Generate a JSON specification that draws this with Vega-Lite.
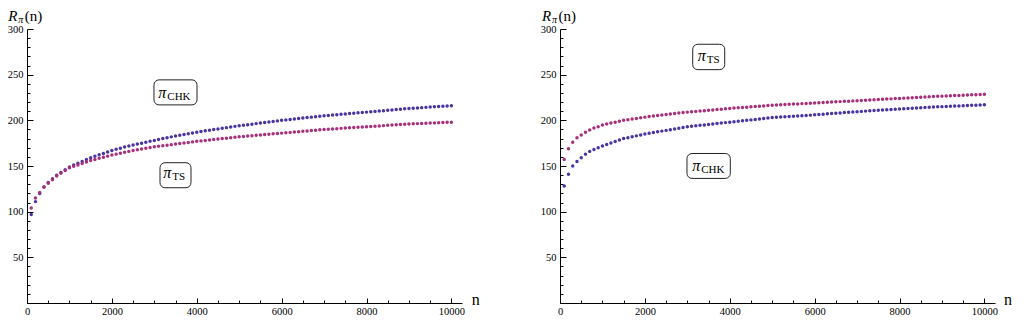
{
  "$schema": "https://vega.github.io/schema/vega-lite/v6.json",
  "background": "white",
  "padding": {"left": 7, "top": 9, "right": 5, "bottom": 5},
  "spacing": 60,
  "config": {
    "view": {"stroke": null},
    "axis": {"grid": false, "domainColor": "#000", "tickColor": "#000", "labelColor": "#000", "labelFont": "Liberation Serif", "labelFontSize": 10, "labelOverlap": false, "labelFlush": false}
  },
  "datasets": {
    "pts": [
      {"n":100,"lc":97,"lt":104,"rc":128,"rt":157},
      {"n":200,"lc":111,"lt":115,"rc":141,"rt":169},
      {"n":300,"lc":120,"lt":121,"rc":150,"rt":176},
      {"n":400,"lc":127,"lt":127,"rc":155,"rt":181},
      {"n":500,"lc":132,"lt":131,"rc":159,"rt":184},
      {"n":600,"lc":136,"lt":135,"rc":163,"rt":187},
      {"n":700,"lc":140,"lt":139,"rc":166,"rt":189.5},
      {"n":800,"lc":143,"lt":142,"rc":168,"rt":191.5},
      {"n":900,"lc":146,"lt":145,"rc":170,"rt":193},
      {"n":1000,"lc":149,"lt":148,"rc":172,"rt":195},
      {"n":1100,"lc":151,"lt":149.6,"rc":173.6,"rt":196},
      {"n":1200,"lc":153,"lt":151.2,"rc":175.2,"rt":197},
      {"n":1300,"lc":155,"lt":152.8,"rc":176.8,"rt":198},
      {"n":1400,"lc":157,"lt":154.4,"rc":178.4,"rt":199},
      {"n":1500,"lc":159,"lt":156,"rc":180,"rt":200},
      {"n":1600,"lc":160.6,"lt":157.2,"rc":181,"rt":200.7},
      {"n":1700,"lc":162.2,"lt":158.4,"rc":182,"rt":201.4},
      {"n":1800,"lc":163.8,"lt":159.6,"rc":183,"rt":202.1},
      {"n":1900,"lc":165.4,"lt":160.8,"rc":184,"rt":202.8},
      {"n":2000,"lc":167,"lt":162,"rc":185,"rt":203.5},
      {"n":2100,"lc":168.3,"lt":163,"rc":185.8,"rt":204.1},
      {"n":2200,"lc":169.5,"lt":164,"rc":186.6,"rt":204.7},
      {"n":2300,"lc":170.7,"lt":165,"rc":187.4,"rt":205.3},
      {"n":2400,"lc":171.9,"lt":166,"rc":188.2,"rt":205.9},
      {"n":2500,"lc":173,"lt":167,"rc":189,"rt":206.5},
      {"n":2600,"lc":174,"lt":167.8,"rc":189.8,"rt":207},
      {"n":2700,"lc":175,"lt":168.6,"rc":190.6,"rt":207.5},
      {"n":2800,"lc":176,"lt":169.4,"rc":191.4,"rt":208},
      {"n":2900,"lc":177,"lt":170.2,"rc":192.2,"rt":208.5},
      {"n":3000,"lc":178,"lt":171,"rc":193,"rt":209},
      {"n":3100,"lc":179,"lt":171.6,"rc":193.5,"rt":209.4},
      {"n":3200,"lc":180,"lt":172.2,"rc":194,"rt":209.8},
      {"n":3300,"lc":181,"lt":172.8,"rc":194.5,"rt":210.2},
      {"n":3400,"lc":181.9,"lt":173.4,"rc":195,"rt":210.6},
      {"n":3500,"lc":182.8,"lt":174,"rc":195.5,"rt":211},
      {"n":3600,"lc":183.7,"lt":174.6,"rc":196,"rt":211.4},
      {"n":3700,"lc":184.6,"lt":175.2,"rc":196.5,"rt":211.8},
      {"n":3800,"lc":185.4,"lt":175.8,"rc":197,"rt":212.2},
      {"n":3900,"lc":186.2,"lt":176.4,"rc":197.5,"rt":212.6},
      {"n":4000,"lc":187,"lt":177,"rc":198,"rt":213},
      {"n":4100,"lc":187.8,"lt":177.5,"rc":198.5,"rt":213.4},
      {"n":4200,"lc":188.5,"lt":178,"rc":199,"rt":213.7},
      {"n":4300,"lc":189.2,"lt":178.5,"rc":199.5,"rt":214.1},
      {"n":4400,"lc":189.9,"lt":179,"rc":200,"rt":214.4},
      {"n":4500,"lc":190.6,"lt":179.5,"rc":200.5,"rt":214.8},
      {"n":4600,"lc":191.3,"lt":180,"rc":201,"rt":215.1},
      {"n":4700,"lc":192,"lt":180.5,"rc":201.5,"rt":215.5},
      {"n":4800,"lc":192.7,"lt":181,"rc":202,"rt":215.8},
      {"n":4900,"lc":193.4,"lt":181.5,"rc":202.5,"rt":216.2},
      {"n":5000,"lc":194,"lt":182,"rc":203,"rt":216.5},
      {"n":5100,"lc":194.6,"lt":182.4,"rc":203.3,"rt":216.8},
      {"n":5200,"lc":195.2,"lt":182.8,"rc":203.6,"rt":217},
      {"n":5300,"lc":195.8,"lt":183.2,"rc":203.9,"rt":217.3},
      {"n":5400,"lc":196.4,"lt":183.6,"rc":204.2,"rt":217.5},
      {"n":5500,"lc":197,"lt":184,"rc":204.5,"rt":217.8},
      {"n":5600,"lc":197.6,"lt":184.4,"rc":204.8,"rt":218},
      {"n":5700,"lc":198.2,"lt":184.8,"rc":205.1,"rt":218.3},
      {"n":5800,"lc":198.8,"lt":185.2,"rc":205.4,"rt":218.5},
      {"n":5900,"lc":199.4,"lt":185.6,"rc":205.7,"rt":218.8},
      {"n":6000,"lc":200,"lt":186,"rc":206,"rt":219},
      {"n":6100,"lc":200.5,"lt":186.4,"rc":206.4,"rt":219.3},
      {"n":6200,"lc":201,"lt":186.8,"rc":206.7,"rt":219.5},
      {"n":6300,"lc":201.5,"lt":187.2,"rc":207.1,"rt":219.8},
      {"n":6400,"lc":202,"lt":187.6,"rc":207.4,"rt":220},
      {"n":6500,"lc":202.5,"lt":188,"rc":207.8,"rt":220.3},
      {"n":6600,"lc":203,"lt":188.4,"rc":208.1,"rt":220.5},
      {"n":6700,"lc":203.5,"lt":188.8,"rc":208.5,"rt":220.8},
      {"n":6800,"lc":204,"lt":189.2,"rc":208.8,"rt":221},
      {"n":6900,"lc":204.5,"lt":189.6,"rc":209.2,"rt":221.3},
      {"n":7000,"lc":205,"lt":190,"rc":209.5,"rt":221.5},
      {"n":7100,"lc":205.4,"lt":190.3,"rc":209.8,"rt":221.8},
      {"n":7200,"lc":205.8,"lt":190.6,"rc":210.1,"rt":222},
      {"n":7300,"lc":206.2,"lt":190.9,"rc":210.4,"rt":222.3},
      {"n":7400,"lc":206.6,"lt":191.2,"rc":210.7,"rt":222.5},
      {"n":7500,"lc":207,"lt":191.5,"rc":211,"rt":222.8},
      {"n":7600,"lc":207.4,"lt":191.8,"rc":211.3,"rt":223},
      {"n":7700,"lc":207.8,"lt":192.1,"rc":211.6,"rt":223.3},
      {"n":7800,"lc":208.2,"lt":192.4,"rc":211.9,"rt":223.5},
      {"n":7900,"lc":208.6,"lt":192.7,"rc":212.2,"rt":223.8},
      {"n":8000,"lc":209,"lt":193,"rc":212.5,"rt":224},
      {"n":8100,"lc":209.4,"lt":193.3,"rc":212.8,"rt":224.3},
      {"n":8200,"lc":209.8,"lt":193.6,"rc":213,"rt":224.5},
      {"n":8300,"lc":210.2,"lt":193.9,"rc":213.3,"rt":224.8},
      {"n":8400,"lc":210.6,"lt":194.2,"rc":213.5,"rt":225},
      {"n":8500,"lc":211,"lt":194.5,"rc":213.8,"rt":225.3},
      {"n":8600,"lc":211.4,"lt":194.8,"rc":214,"rt":225.5},
      {"n":8700,"lc":211.8,"lt":195.1,"rc":214.3,"rt":225.8},
      {"n":8800,"lc":212.2,"lt":195.4,"rc":214.5,"rt":226},
      {"n":8900,"lc":212.6,"lt":195.7,"rc":214.8,"rt":226.3},
      {"n":9000,"lc":213,"lt":196,"rc":215,"rt":226.5},
      {"n":9100,"lc":213.3,"lt":196.2,"rc":215.2,"rt":226.7},
      {"n":9200,"lc":213.6,"lt":196.4,"rc":215.4,"rt":226.9},
      {"n":9300,"lc":213.9,"lt":196.6,"rc":215.6,"rt":227.1},
      {"n":9400,"lc":214.2,"lt":196.8,"rc":215.8,"rt":227.3},
      {"n":9500,"lc":214.5,"lt":197,"rc":216,"rt":227.5},
      {"n":9600,"lc":214.8,"lt":197.2,"rc":216.2,"rt":227.7},
      {"n":9700,"lc":215.1,"lt":197.4,"rc":216.4,"rt":227.9},
      {"n":9800,"lc":215.4,"lt":197.6,"rc":216.6,"rt":228.1},
      {"n":9900,"lc":215.7,"lt":197.8,"rc":216.8,"rt":228.3},
      {"n":10000,"lc":216,"lt":198,"rc":217,"rt":228.5}
    ],
    "boxes": [
      {"p":"L","n":2992,"n2":4006,"v":244.3,"v2":216.9},
      {"p":"L","n":3134,"n2":3864,"v":153.6,"v2":126.2},
      {"p":"R","n":3127,"n2":3881,"v":283.3,"v2":255.5},
      {"p":"R","n":2992,"n2":4013,"v":163.7,"v2":136.4}
    ],
    "labels": [
      {"p":"L","n":3094,"v":224.6,"sub":"CHK"},
      {"p":"L","n":3212,"v":137.2,"sub":"TS"},
      {"p":"R","n":3245,"v":265,"sub":"TS"},
      {"p":"R","n":3117,"v":144.8,"sub":"CHK"}
    ],
    "heads": [
      {"p":"L","n":-441,"v":308.7},
      {"p":"R","n":-424,"v":308.7}
    ],
    "axlab": [
      {"p":"L","n":10478,"v":-2.7},
      {"p":"R","n":10462,"v":-2.7}
    ]
  },
  "hconcat": [
    {
      "width": 435, "height": 274,
      "encoding": {
        "x": {"field":"n","type":"quantitative","title":null,"scale":{"domain":[0,10250],"nice":false},
          "axis":{"values":[0,500,1000,1500,2000,2500,3000,3500,4000,4500,5000,5500,6000,6500,7000,7500,8000,8500,9000,9500,10000],"format":"d","labelExpr":"datum.value % 2000 === 0 ? datum.label : ''","tickSize":{"condition":{"test":"datum.value % 2000 === 0","value":-5},"value":-3},"labelPadding":8,"labelFont":"Liberation Serif","labelFontSize":10.5,"labelColor":"#000"}},
        "y": {"field":"v","type":"quantitative","title":null,"scale":{"domain":[0,300],"nice":false},
          "axis":{"values":[0,10,20,30,40,50,60,70,80,90,100,110,120,130,140,150,160,170,180,190,200,210,220,230,240,250,260,270,280,290,300],"format":"d","labelExpr":"datum.value % 50 === 0 && datum.value > 0 ? datum.label : ''","tickSize":{"condition":{"test":"datum.value % 50 === 0","value":-6},"value":-3},"labelPadding":10,"labelFont":"Liberation Serif","labelFontSize":10.5,"labelColor":"#000"}}
      },
      "layer": [
        {"data":{"name":"pts"},"transform":[{"fold":["lc","lt"],"as":["s","v"]}],
         "mark":{"type":"point","filled":true,"size":12,"opacity":1},
         "encoding":{"color":{"field":"s","type":"nominal","scale":{"domain":["lc","lt","rc","rt"],"range":["#4a33a3","#a8307a","#4a33a3","#a8307a"]},"legend":null}}},
        {"data":{"name":"boxes"},"transform":[{"filter":"datum.p === 'L'"}],
         "mark":{"type":"rect","fill":"#ffffff","stroke":"#222222","strokeWidth":1,"cornerRadius":5},
         "encoding":{"x2":{"field":"n2"},"y2":{"field":"v2"}}},
        {"data":{"name":"labels"},"transform":[{"filter":"datum.p === 'L'"}],
         "mark":{"type":"text","text":"π","font":"Liberation Serif","fontStyle":"italic","fontSize":16,"align":"left","baseline":"alphabetic","color":"#000"}},
        {"data":{"name":"labels"},"transform":[{"filter":"datum.p === 'L'"}],
         "mark":{"type":"text","font":"Liberation Serif","fontSize":11,"align":"left","baseline":"alphabetic","dx":9,"dy":2,"color":"#000"},
         "encoding":{"text":{"field":"sub"}}},
        {"data":{"name":"heads"},"transform":[{"filter":"datum.p === 'L'"}],
         "mark":{"type":"text","text":"R","font":"Liberation Serif","fontStyle":"italic","fontSize":15,"align":"left","baseline":"alphabetic","color":"#000"}},
        {"data":{"name":"heads"},"transform":[{"filter":"datum.p === 'L'"}],
         "mark":{"type":"text","text":"π","font":"Liberation Serif","fontStyle":"italic","fontSize":10,"align":"left","baseline":"alphabetic","dx":10,"dy":2,"color":"#000"}},
        {"data":{"name":"heads"},"transform":[{"filter":"datum.p === 'L'"}],
         "mark":{"type":"text","text":"(n)","font":"Liberation Serif","fontSize":15,"align":"left","baseline":"alphabetic","dx":16.5,"color":"#000"}},
        {"data":{"name":"axlab"},"transform":[{"filter":"datum.p === 'L'"}],
         "mark":{"type":"text","text":"n","font":"Liberation Serif","fontSize":16,"align":"left","baseline":"alphabetic","color":"#000"}}
      ]
    },
    {
      "width": 435, "height": 274,
      "encoding": {
        "x": {"field":"n","type":"quantitative","title":null,"scale":{"domain":[0,10250],"nice":false},
          "axis":{"values":[0,500,1000,1500,2000,2500,3000,3500,4000,4500,5000,5500,6000,6500,7000,7500,8000,8500,9000,9500,10000],"format":"d","labelExpr":"datum.value % 2000 === 0 ? datum.label : ''","tickSize":{"condition":{"test":"datum.value % 2000 === 0","value":-5},"value":-3},"labelPadding":8,"labelFont":"Liberation Serif","labelFontSize":10.5,"labelColor":"#000"}},
        "y": {"field":"v","type":"quantitative","title":null,"scale":{"domain":[0,300],"nice":false},
          "axis":{"values":[0,10,20,30,40,50,60,70,80,90,100,110,120,130,140,150,160,170,180,190,200,210,220,230,240,250,260,270,280,290,300],"format":"d","labelExpr":"datum.value % 50 === 0 && datum.value > 0 ? datum.label : ''","tickSize":{"condition":{"test":"datum.value % 50 === 0","value":-6},"value":-3},"labelPadding":10,"labelFont":"Liberation Serif","labelFontSize":10.5,"labelColor":"#000"}}
      },
      "layer": [
        {"data":{"name":"pts"},"transform":[{"fold":["rc","rt"],"as":["s","v"]}],
         "mark":{"type":"point","filled":true,"size":12,"opacity":1},
         "encoding":{"color":{"field":"s","type":"nominal","scale":{"domain":["lc","lt","rc","rt"],"range":["#4a33a3","#a8307a","#4a33a3","#a8307a"]},"legend":null}}},
        {"data":{"name":"boxes"},"transform":[{"filter":"datum.p === 'R'"}],
         "mark":{"type":"rect","fill":"#ffffff","stroke":"#222222","strokeWidth":1,"cornerRadius":5},
         "encoding":{"x2":{"field":"n2"},"y2":{"field":"v2"}}},
        {"data":{"name":"labels"},"transform":[{"filter":"datum.p === 'R'"}],
         "mark":{"type":"text","text":"π","font":"Liberation Serif","fontStyle":"italic","fontSize":16,"align":"left","baseline":"alphabetic","color":"#000"}},
        {"data":{"name":"labels"},"transform":[{"filter":"datum.p === 'R'"}],
         "mark":{"type":"text","font":"Liberation Serif","fontSize":11,"align":"left","baseline":"alphabetic","dx":9,"dy":2,"color":"#000"},
         "encoding":{"text":{"field":"sub"}}},
        {"data":{"name":"heads"},"transform":[{"filter":"datum.p === 'R'"}],
         "mark":{"type":"text","text":"R","font":"Liberation Serif","fontStyle":"italic","fontSize":15,"align":"left","baseline":"alphabetic","color":"#000"}},
        {"data":{"name":"heads"},"transform":[{"filter":"datum.p === 'R'"}],
         "mark":{"type":"text","text":"π","font":"Liberation Serif","fontStyle":"italic","fontSize":10,"align":"left","baseline":"alphabetic","dx":10,"dy":2,"color":"#000"}},
        {"data":{"name":"heads"},"transform":[{"filter":"datum.p === 'R'"}],
         "mark":{"type":"text","text":"(n)","font":"Liberation Serif","fontSize":15,"align":"left","baseline":"alphabetic","dx":16.5,"color":"#000"}},
        {"data":{"name":"axlab"},"transform":[{"filter":"datum.p === 'R'"}],
         "mark":{"type":"text","text":"n","font":"Liberation Serif","fontSize":16,"align":"left","baseline":"alphabetic","color":"#000"}}
      ]
    }
  ]
}
